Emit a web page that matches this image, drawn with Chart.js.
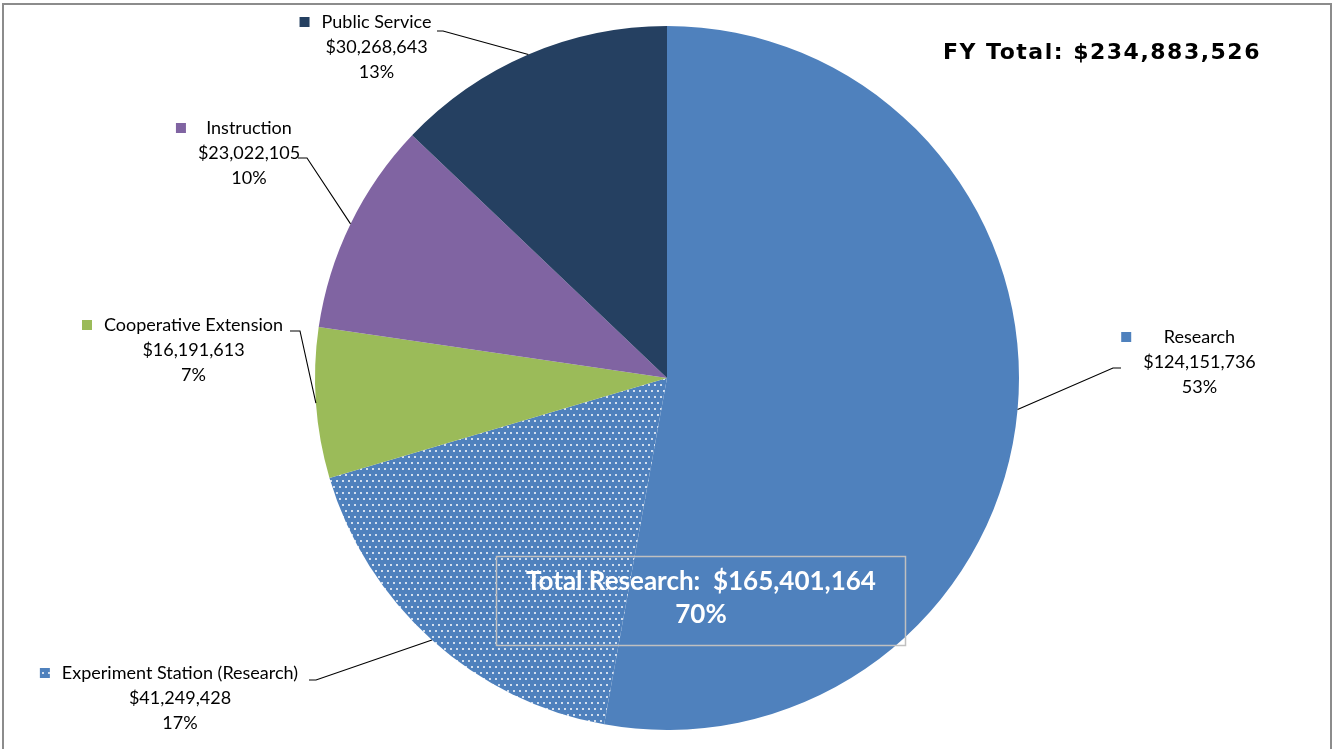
<!DOCTYPE html>
<html>
<head>
<meta charset="utf-8">
<script src="https://cdn.jsdelivr.net/npm/chart.js@4"></script>
<style>
  body { margin:0; background:#fff; }
  #wrap { width:1333px; height:749px; position:relative; }
</style>
</head>
<body>
<div id="wrap"><canvas id="pie" width="1333" height="749"></canvas></div>
<script>
// Data
const categories = ["Research", "Experiment Station (Research)", "Cooperative Extension", "Instruction", "Public Service"];
const amounts = [124151736, 41249428, 16191613, 23022105, 30268643];
const amountLabels = ["$124,151,736", "$41,249,428", "$16,191,613", "$23,022,105", "$30,268,643"];
const percentLabels = ["53%", "17%", "7%", "10%", "13%"];
const totalResearchText = "Total Research:  $165,401,164";
const totalResearchPct = "70%";
const fyTotalText = "FY Total: $234,883,526";

// Colors
const sliceColors = ["#4f81bd", "#4f81bd", "#9bbb59", "#8064a2", "#254061"];

// dotted fill for experiment station
function dotPattern(bg){
  const c = document.createElement("canvas");
  c.width = 6; c.height = 12;
  const g = c.getContext("2d");
  g.fillStyle = bg; g.fillRect(0,0,6,12);
  g.fillStyle = "rgba(255,255,255,0.75)";
  g.fillRect(0,0,2,2);
  g.fillRect(3,6,2,2);
  return g.createPattern(c, "repeat");
}
const ctx = document.getElementById("pie").getContext("2d");
const fills = sliceColors.slice();
fills[1] = dotPattern("#4f81bd");

// label placement (layout only): block centre x, first line y, leader attach + elbow
const labelLayout = [
  { cx:1199.5, y:337, attach:[1121,368], elbow:[1113,368] },
  { cx:180,    y:673, attach:[309,680],  elbow:[316,680] },
  { cx:193.5,  y:325, attach:[290,331],  elbow:[300,331] },
  { cx:249,    y:128, attach:[298,158],  elbow:[307,158] },
  { cx:376.5,  y:22,  attach:[437,31],   elbow:[443,31] }
];
const LABEL_FONT = "18px Lato";
const LINE_H = 25;

const labelsPlugin = {
  id: "labels",
  beforeDraw(chart){
    const c = chart.ctx;
    c.save();
    c.fillStyle = "#fff";
    c.fillRect(0,0,chart.width,chart.height);
    c.restore();
  },
  afterDatasetsDraw(chart){
    const c = chart.ctx;
    const meta = chart.getDatasetMeta(0);
    c.save();
    // leader lines
    c.strokeStyle = "#000";
    c.lineWidth = 1.1;
    meta.data.forEach((arc, i) => {
      const p = arc.getProps(["x","y","startAngle","endAngle","outerRadius"], true);
      const mid = (p.startAngle + p.endAngle) / 2;
      const ax = p.x + Math.cos(mid) * p.outerRadius;
      const ay = p.y + Math.sin(mid) * p.outerRadius;
      const L = labelLayout[i];
      c.beginPath();
      c.moveTo(ax, ay);
      c.lineTo(L.elbow[0], L.elbow[1]);
      c.lineTo(L.attach[0], L.attach[1]);
      c.stroke();
    });
    // label text
    c.font = LABEL_FONT;
    c.textAlign = "center";
    c.textBaseline = "middle";
    categories.forEach((name, i) => {
      const L = labelLayout[i];
      const lines = [name, amountLabels[i], percentLabels[i]];
      const maxW = Math.max(...lines.map(t => c.measureText(t).width));
      c.fillStyle = "#000";
      lines.forEach((t, k) => c.fillText(t, L.cx, L.y + k * LINE_H));
      // legend key
      const kx = L.cx - maxW / 2 - 22;
      c.fillStyle = fills[i];
      c.fillRect(kx, L.y - 5, 10, 10);
    });
    // total research box
    c.strokeStyle = "#c0c0c0";
    c.lineWidth = 1.5;
    c.strokeRect(496.5, 556.5, 409, 89);
    c.fillStyle = "#fff";
    c.font = "bold 26px Lato";
    c.fillText(totalResearchText, 701, 582);
    c.fillText(totalResearchPct, 701, 615);
    // FY total
    c.fillStyle = "#000";
    c.font = "bold 22px 'DejaVu Sans'";
    c.letterSpacing = "1.5px";
    c.textAlign = "left";
    c.fillText(fyTotalText, 943, 53);
    c.letterSpacing = "0px";
    // frame
    c.strokeStyle = "#8c8c8c";
    c.lineWidth = 2;
    c.strokeRect(3, 4, 1328, 760);
    c.restore();
  }
};

new Chart(ctx, {
  type: "pie",
  data: {
    labels: categories,
    datasets: [{ data: amounts, backgroundColor: fills, borderWidth: 0 }]
  },
  options: {
    responsive: false,
    animation: false,
    layout: { padding: { left: 315, right: 314, top: 26, bottom: 19 } },
    plugins: { legend: { display: false }, tooltip: { enabled: false } }
  },
  plugins: [labelsPlugin]
});
</script>
</body>
</html>
